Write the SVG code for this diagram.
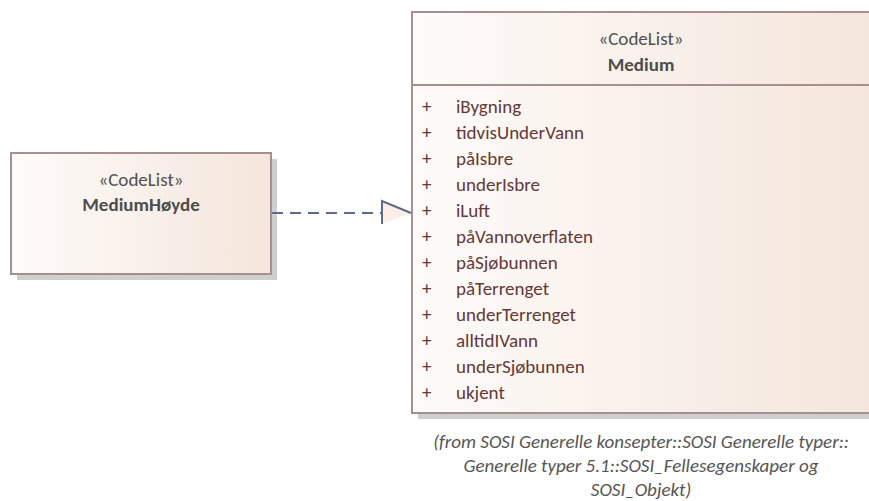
<svg xmlns="http://www.w3.org/2000/svg" width="869" height="501" viewBox="0 0 869 501">
  <defs>
    <linearGradient id="classFill" x1="0" y1="0" x2="1" y2="0">
      <stop offset="0" stop-color="#fefbf9"/>
      <stop offset="1" stop-color="#f4e6dc"/>
    </linearGradient>
    <style>
      .shadow { fill: #cfcfcf; }
      .box { fill: url(#classFill); stroke: #a58f8f; stroke-width: 2; }
      .div { stroke: #a58f8f; stroke-width: 2; fill: none; }
      .stereo { font-family: Calibri, Carlito, "Liberation Sans", sans-serif; font-size: 19px; fill: #505050; text-anchor: middle; }
      .name { font-family: Calibri, Carlito, "Liberation Sans", sans-serif; font-size: 19px; font-weight: bold; fill: #4d4d4d; text-anchor: middle; }
      .attr { font-family: Calibri, Carlito, "Liberation Sans", sans-serif; font-size: 19px; fill: #643838; }
      .note { font-family: Calibri, Carlito, "Liberation Sans", sans-serif; font-size: 19px; font-style: italic; fill: #555555; text-anchor: middle; }
      .conn { stroke: #5b6b88; stroke-width: 2; fill: none; }
    </style>
  </defs>

  <!-- MediumHøyde -->
  <g id="MediumHoyde">
    <rect class="shadow" x="17" y="159" width="260" height="121"/>
    <rect class="box" x="11" y="153" width="260" height="121"/>
    <text class="stereo" x="141" y="186">«CodeList»</text>
    <text class="name" x="141" y="211">MediumHøyde</text>
  </g>

  <!-- Medium -->
  <g id="Medium">
    <rect class="shadow" x="418" y="18" width="460" height="401"/>
    <rect class="box" x="412" y="12" width="460" height="401"/>
    <line class="div" x1="412" y1="85" x2="872" y2="85"/>
    <text class="stereo" x="641" y="45">«CodeList»</text>
    <text class="name" x="641" y="71">Medium</text>
    <g class="attr">
      <text x="422" y="113">+</text><text x="456" y="113">iBygning</text>
      <text x="422" y="139">+</text><text x="456" y="139">tidvisUnderVann</text>
      <text x="422" y="165">+</text><text x="456" y="165">påIsbre</text>
      <text x="422" y="191">+</text><text x="456" y="191">underIsbre</text>
      <text x="422" y="217">+</text><text x="456" y="217">iLuft</text>
      <text x="422" y="243">+</text><text x="456" y="243">påVannoverflaten</text>
      <text x="422" y="269">+</text><text x="456" y="269">påSjøbunnen</text>
      <text x="422" y="295">+</text><text x="456" y="295">påTerrenget</text>
      <text x="422" y="321">+</text><text x="456" y="321">underTerrenget</text>
      <text x="422" y="347">+</text><text x="456" y="347">alltidIVann</text>
      <text x="422" y="373">+</text><text x="456" y="373">underSjøbunnen</text>
      <text x="422" y="399">+</text><text x="456" y="399">ukjent</text>
    </g>
    <text class="note" x="641" y="448">(from SOSI Generelle konsepter::SOSI Generelle typer::</text>
    <text class="note" x="641" y="472">Generelle typer 5.1::SOSI_Fellesegenskaper og</text>
    <text class="note" x="641" y="496">SOSI_Objekt)</text>
  </g>

  <!-- Connectors -->
  <g id="connectors">
    <line class="conn" x1="272" y1="213" x2="382" y2="213" stroke-dasharray="11,7"/>
    <polygon points="382,201 411,213 382,224" fill="#fbeee8" stroke="none"/>
    <polyline class="conn" points="382,224 382,201 411,213"/>
  </g>
</svg>
